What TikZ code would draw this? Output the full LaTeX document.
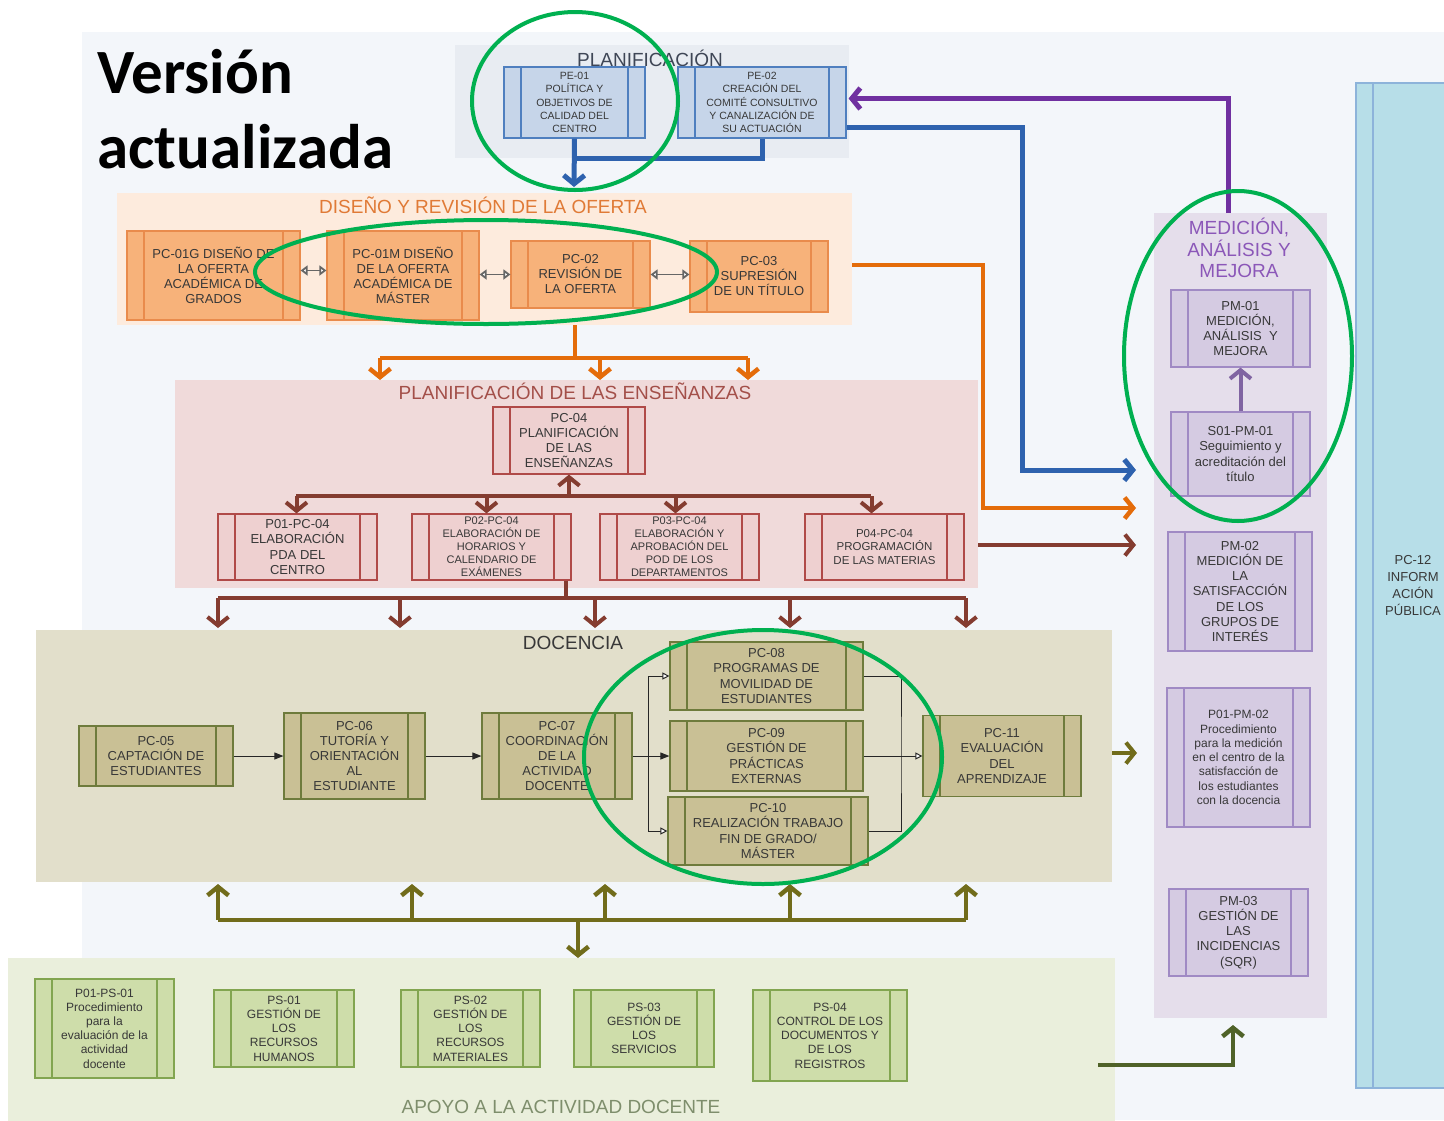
\documentclass[tikz,border=0pt]{standalone}
\usepackage{fontspec}
\setmainfont{Liberation Sans}
\newfontfamily\ttlfont{Carlito}
\usetikzlibrary{arrows.meta}

\definecolor{bgBlue}{HTML}{F3F6FA}
\definecolor{planFill}{HTML}{E8ECF2}
\definecolor{planText}{HTML}{3E4656}
\definecolor{peFill}{HTML}{C6D5E9}
\definecolor{peLine}{HTML}{4F7FBF}
\definecolor{disFill}{HTML}{FDEBDD}
\definecolor{orFill}{HTML}{F7B27A}
\definecolor{orLine}{HTML}{E98B4C}
\definecolor{orText}{HTML}{E07A36}
\definecolor{ensFill}{HTML}{F0DADA}
\definecolor{pkFill}{HTML}{EED0D0}
\definecolor{pkLine}{HTML}{B04A48}
\definecolor{pkText}{HTML}{A34F49}
\definecolor{docFill}{HTML}{E2DFCB}
\definecolor{olFill}{HTML}{C9C095}
\definecolor{olLine}{HTML}{6E7B3C}
\definecolor{apoFill}{HTML}{EAEFDC}
\definecolor{grFill}{HTML}{CEDDAA}
\definecolor{grLine}{HTML}{82A550}
\definecolor{grText}{HTML}{7E8E6C}
\definecolor{medFill}{HTML}{E5DEEB}
\definecolor{puFill}{HTML}{D5CBE2}
\definecolor{puLine}{HTML}{A08AC4}
\definecolor{puText}{HTML}{8B57B8}
\definecolor{infFill}{HTML}{B7DEE8}
\definecolor{infLine}{HTML}{8DB3DA}
\definecolor{arBlue}{HTML}{2E62AE}
\definecolor{arPurple}{HTML}{7030A0}
\definecolor{arLilac}{HTML}{8064A2}
\definecolor{arOrange}{HTML}{E46C0A}
\definecolor{arBrown}{HTML}{843C30}
\definecolor{arOlive}{HTML}{716C1B}
\definecolor{arGreen}{HTML}{4F6228}
\definecolor{ring}{HTML}{00B050}

\tikzset{
  proc/.style={draw=#1, line width=1.2pt, inner sep=1pt, align=center, text=black!78,
    path picture={\draw[#1, line width=1.2pt]
      ([xshift=17pt]path picture bounding box.north west) -- ([xshift=17pt]path picture bounding box.south west)
      ([xshift=-17pt]path picture bounding box.north east) -- ([xshift=-17pt]path picture bounding box.south east);}},
  pebox/.style={proc=peLine, fill=peFill, font=\fontsize{10.5}{13.3}\selectfont},
  orbox/.style={proc=orLine, fill=orFill, font=\fontsize{13}{15}\selectfont},
  pkbox/.style={proc=pkLine, fill=pkFill, font=\fontsize{13}{15.3}\selectfont},
  olbox/.style={proc=olLine, fill=olFill, font=\fontsize{13}{15.2}\selectfont},
  grbox/.style={proc=grLine, fill=grFill, font=\fontsize{12}{14.2}\selectfont},
  pubox/.style={proc=puLine, fill=puFill, font=\fontsize{13}{15.2}\selectfont},
  panel/.style={anchor=north west, inner sep=0pt, outer sep=0pt},
  ptitle/.style={font=\fontsize{19}{21.5}\selectfont, align=center},
  barb/.style={-{Straight Barb[length=8.5pt,width=21pt]}},
  thin arr/.style={line width=1pt, black!85, -{Triangle[length=9pt,width=7pt]}},
  open arr/.style={line width=1pt, black!85, -{Triangle[open,length=7pt,width=7pt,fill=white]}},
  twoway/.style={line width=1.8pt, black!60, {Triangle[open,length=7pt,width=10pt,fill=white]}-{Triangle[open,length=7pt,width=10pt,fill=white]}}
}

\begin{document}
\begin{tikzpicture}[x=1pt,y=-1pt]
\useasboundingbox (0,0) rectangle (1444,1120);
\fill[bgBlue] (82,32) rectangle (1444,1120);

% bloques de fondo
\node[panel, fill=planFill, minimum width=394, minimum height=113] (plan) at (455,45) {};
\node[panel, fill=disFill, minimum width=735, minimum height=132] (dis) at (117,193) {};
\node[panel, fill=ensFill, minimum width=803, minimum height=208] (ens) at (175,380) {};
\node[panel, fill=docFill, minimum width=1076, minimum height=252] (doc) at (36,630) {};
\node[panel, fill=apoFill, minimum width=1107, minimum height=170] (apo) at (8,958) {};
\node[panel, fill=medFill, minimum width=173, minimum height=805] (med) at (1154,213) {};

\node[ptitle, text=planText] (plant) at (650,58) {PLANIFICACIÓN};
\node[ptitle, text=orText] (dist) at (483,205) {DISEÑO Y REVISIÓN DE LA OFERTA};
\node[ptitle, text=pkText] (enst) at (575,391) {PLANIFICACIÓN DE LAS ENSEÑANZAS};
\node[ptitle, text=black!78] (doct) at (573,643) {DOCENCIA};
\node[ptitle, text=grText] (apot) at (561,1107) {APOYO A LA ACTIVIDAD DOCENTE};
\node[ptitle, text=puText] (medt) at (1239,248) {MEDICIÓN,\\ANÁLISIS Y\\MEJORA};

\node[anchor=base west, font=\ttlfont\bfseries\fontsize{63}{75}\selectfont] (ver) at (94,93) {Versión};
\node[anchor=base west, font=\ttlfont\bfseries\fontsize{63}{75}\selectfont] (act) at (94,168) {actualizada};

% planificacion
\node[pebox, minimum width=141, minimum height=71] (pe01) at (574.5,102.5) {PE-01\\POLÍTICA Y\\OBJETIVOS DE\\CALIDAD DEL\\CENTRO};
\node[pebox, minimum width=168, minimum height=71] (pe02) at (762,102.5) {PE-02\\CREACIÓN DEL\\COMITÉ CONSULTIVO\\Y CANALIZACIÓN DE\\SU ACTUACIÓN};

% oferta
\node[orbox, minimum width=173, minimum height=89] (pc01g) at (213.5,275.5) {PC-01G DISEÑO DE\\LA OFERTA\\ACADÉMICA DE\\GRADOS};
\node[orbox, minimum width=152, minimum height=89] (pc01m) at (403,275.5) {PC-01M DISEÑO\\DE LA OFERTA\\ACADÉMICA DE\\MÁSTER};
\node[orbox, minimum width=139, minimum height=67] (pc02) at (580.5,274.5) {PC-02\\REVISIÓN DE\\LA OFERTA};
\node[orbox, minimum width=138, minimum height=71] (pc03) at (759,276.5) {PC-03\\SUPRESIÓN\\DE UN TÍTULO};

% ensenanzas
\node[pkbox, minimum width=152, minimum height=67] (pc04) at (569,440.5) {PC-04\\PLANIFICACIÓN\\DE LAS\\ENSEÑANZAS};
\node[pkbox, minimum width=159, minimum height=66] (p01pc04) at (297.5,547) {P01-PC-04\\ELABORACIÓN\\PDA DEL\\CENTRO};
\node[pkbox, minimum width=159, minimum height=66, font=\fontsize{11}{13}\selectfont] (p02pc04) at (491.5,547) {P02-PC-04\\ELABORACIÓN DE\\HORARIOS Y\\CALENDARIO DE\\EXÁMENES};
\node[pkbox, minimum width=159, minimum height=66, font=\fontsize{11}{13}\selectfont] (p03pc04) at (679.5,547) {P03-PC-04\\ELABORACIÓN Y\\APROBACIÓN DEL\\POD DE LOS\\DEPARTAMENTOS};
\node[pkbox, minimum width=159, minimum height=66, font=\fontsize{11.5}{13.5}\selectfont] (p04pc04) at (884.5,547) {P04-PC-04\\PROGRAMACIÓN\\DE LAS MATERIAS};

% docencia
\node[olbox, minimum width=154, minimum height=60] (pc05) at (156,756) {PC-05\\CAPTACIÓN DE\\ESTUDIANTES};
\node[olbox, minimum width=141, minimum height=86] (pc06) at (354.5,756) {PC-06\\TUTORÍA Y\\ORIENTACIÓN\\AL\\ESTUDIANTE};
\node[olbox, minimum width=150, minimum height=86] (pc07) at (557,756) {PC-07\\COORDINACIÓN\\DE LA\\ACTIVIDAD\\DOCENTE};
\node[olbox, minimum width=193, minimum height=68] (pc08) at (766.5,676) {PC-08\\PROGRAMAS DE\\MOVILIDAD DE\\ESTUDIANTES};
\node[olbox, minimum width=193, minimum height=70] (pc09) at (766.5,756) {PC-09\\GESTIÓN DE\\PRÁCTICAS\\EXTERNAS};
\node[olbox, minimum width=200, minimum height=68] (pc10) at (768,831) {PC-10\\REALIZACIÓN TRABAJO\\FIN DE GRADO/\\MÁSTER};
\node[olbox, minimum width=158, minimum height=81] (pc11) at (1002,756) {PC-11\\EVALUACIÓN\\DEL\\APRENDIZAJE};

% apoyo
\node[grbox, minimum width=139, minimum height=99] (p01ps01) at (104.5,1028.5) {P01-PS-01\\Procedimiento\\para la\\evaluación de la\\actividad\\docente};
\node[grbox, minimum width=140, minimum height=77] (ps01) at (284,1028.5) {PS-01\\GESTIÓN DE\\LOS\\RECURSOS\\HUMANOS};
\node[grbox, minimum width=139, minimum height=77] (ps02) at (470.5,1028.5) {PS-02\\GESTIÓN DE\\LOS\\RECURSOS\\MATERIALES};
\node[grbox, minimum width=140, minimum height=77] (ps03) at (644,1028.5) {PS-03\\GESTIÓN DE\\LOS\\SERVICIOS};
\node[grbox, minimum width=154, minimum height=91] (ps04) at (830,1035.5) {PS-04\\CONTROL DE LOS\\DOCUMENTOS Y\\DE LOS\\REGISTROS};

% medicion
\node[pubox, minimum width=139, minimum height=77] (pm01) at (1240.5,328.5) {PM-01\\MEDICIÓN,\\ANÁLISIS~ Y\\MEJORA};
\node[pubox, minimum width=139, minimum height=84] (s01pm01) at (1240.5,454) {S01-PM-01\\Seguimiento y\\acreditación del\\título};
\node[pubox, minimum width=144, minimum height=119] (pm02) at (1240,591.5) {PM-02\\MEDICIÓN DE\\LA\\SATISFACCIÓN\\DE LOS\\GRUPOS DE\\INTERÉS};
\node[pubox, minimum width=143, minimum height=139, font=\fontsize{12}{14.3}\selectfont] (p01pm02) at (1238.5,757.5) {P01-PM-02\\Procedimiento\\para la medición\\en el centro de la\\satisfacción de\\los estudiantes\\con la docencia};
\node[pubox, minimum width=139, minimum height=87] (pm03) at (1238.5,932.5) {PM-03\\GESTIÓN DE\\LAS\\INCIDENCIAS\\(SQR)};

\node[proc=infLine, fill=infFill, minimum width=114, minimum height=1005, font=\fontsize{13}{17}\selectfont] (pc12) at (1413,585.5) {PC-12\\INFORM\\ACIÓN\\PÚBLICA};

% flechas planificacion
\coordinate (bluein) at (574,187);
\coordinate (bluejoin) at (574,158);
\coordinate (bluemed) at (1136,470);
\draw[line width=5pt, arBlue] (pe02.south) |- (bluejoin);
\draw[line width=5pt, arBlue, barb] (pe01.south) -- (bluein);
\draw[line width=5pt, arBlue, barb] ([yshift=-25pt]pe02.east) -| (1022,470) -- (bluemed);
\draw[line width=5pt, arPurple, barb, shorten >=2pt] ([xshift=-12pt]med.north) |- ([yshift=4pt]pe02.east);
\draw[line width=4pt, arLilac, barb] (s01pm01.north) -- (pm01.south);

% oferta
\draw[twoway] ([yshift=5pt]pc01g.east) -- ([yshift=5pt]pc01g.east -| pc01m.west);
\draw[twoway] (pc01m.east |- pc02.west) -- (pc02.west);
\draw[twoway] (pc02.east) -- (pc02.east -| pc03.west);
\coordinate (ormed) at (1136,508);
\draw[line width=4.5pt, arOrange, barb] ([yshift=-6pt]dis.east) -| (983,508) -- (ormed);
\coordinate (orjoin) at (575,358);
\draw[line width=4.5pt, arOrange] (dis.south -| orjoin) -- (orjoin);
\draw[line width=4.5pt, arOrange] (380,358) -- (748,358);
\foreach \x in {380,600,748}
  \draw[line width=4.5pt, arOrange, barb] (\x,358) -- (ens.north -| \x,0);

% ensenanzas
\coordinate (pc04tree) at (569,496);
\draw[line width=4pt, arBrown, barb] (pc04tree) -- (pc04.south);
\draw[line width=4pt, arBrown] (296,496) -- (871,496);
\foreach \n/\dx in {p01pc04/-1,p02pc04/-5,p03pc04/-4,p04pc04/-13}
  \draw[line width=4pt, arBrown, barb] ([xshift=\dx pt]\n.north |- pc04tree) -- ([xshift=\dx pt]\n.north);
\coordinate (brjoin) at (566,598);
\draw[line width=4pt, arBrown] (p02pc04.south -| brjoin) -- (brjoin);
\draw[line width=4pt, arBrown] (218,598) -- (966,598);
\foreach \x in {218,400,595,790,966}
  \draw[line width=4pt, arBrown, barb] (\x,598) -- ([yshift=2pt]doc.north -| \x,0);
\coordinate (brmed) at (1136,545);
\draw[line width=4pt, arBrown, barb] (ens.east |- brmed) -- (brmed);

% docencia
\draw[thin arr] (pc05) -- (pc06);
\draw[thin arr] (pc06) -- (pc07);
\coordinate (split) at (648,756);
\coordinate (merge) at (901,756);
\draw[line width=1pt, black!85] (pc07.east) -- (split);
\draw[thin arr] (split) -- (pc09.west);
\draw[open arr] (split) |- (pc08.west);
\draw[open arr] (split) |- (pc10.west);
\draw[line width=1pt, black!85] (pc08.east) -| (merge) |- (pc10.east);
\draw[open arr] (pc09.east) -- (pc11.west);
\coordinate (olmed) at (1137,753);
\draw[line width=4pt, arOlive, barb] (doc.east |- olmed) -- (olmed);

% apoyo
\coordinate (oljoin) at (578,920);
\draw[line width=4.5pt, arOlive] (218,920) -- (966,920);
\foreach \x in {218,412,605,790,966}
  \draw[line width=4.5pt, arOlive, barb] (\x,920) -- ([yshift=-2pt]doc.south -| \x,0);
\draw[line width=4.5pt, arOlive, barb] (oljoin) -- (apo.north -| oljoin);
\coordinate (grstart) at (1098,1065);
\draw[line width=4.5pt, arGreen, barb, shorten >=7pt] (grstart) -| (med.south -| 1233,0);

% circulos
\draw[ring, line width=4pt] (575,101) ellipse [x radius=103, y radius=89];
\draw[ring, line width=4pt] (486,272) ellipse [x radius=231, y radius=52];
\draw[ring, line width=4pt] (1238,356) ellipse [x radius=114, y radius=165];
\draw[ring, line width=4pt] (763,757) ellipse [x radius=179, y radius=127];
\end{tikzpicture}
\end{document}
